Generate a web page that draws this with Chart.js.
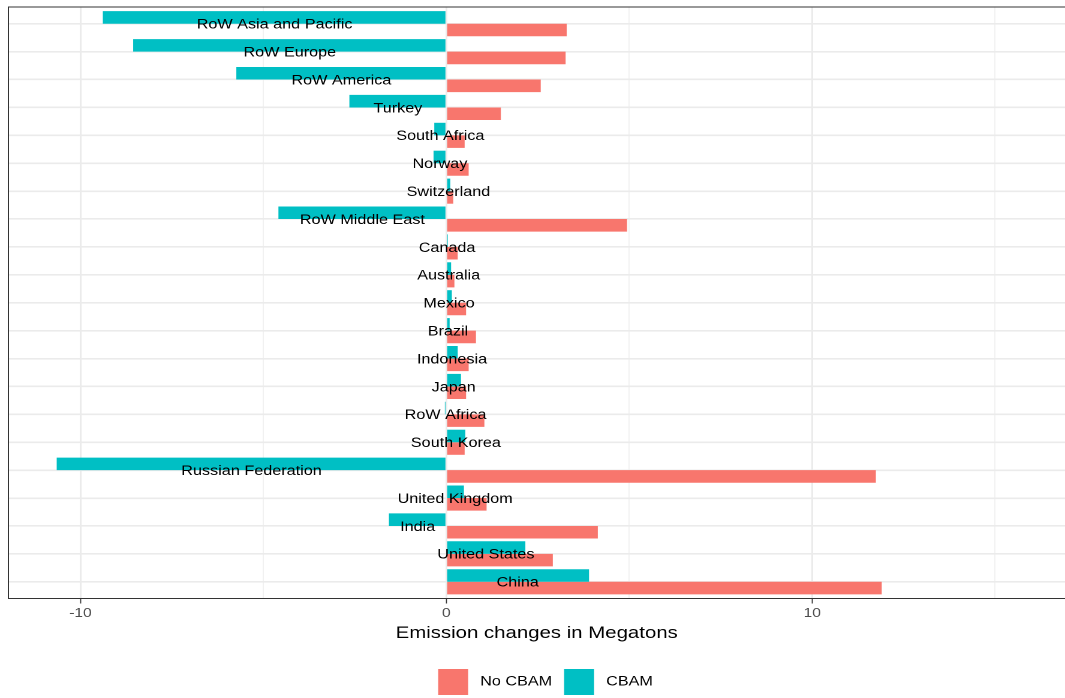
<!DOCTYPE html>
<html><head><meta charset="utf-8">
<script src="https://cdn.jsdelivr.net/npm/chart.js@4/dist/chart.umd.min.js"></script>
<style>html,body{margin:0;padding:0;background:#fff;overflow:hidden}
#c{display:block}</style>
</head><body>
<canvas id="c" width="888" height="698" style="width:1065px;height:698px"></canvas>
<script>
const categories = ['RoW Asia and Pacific','RoW Europe','RoW America','Turkey','South Africa','Norway','Switzerland','RoW Middle East','Canada','Australia','Mexico','Brazil','Indonesia','Japan','RoW Africa','South Korea','Russian Federation','United Kingdom','India','United States','China'];
const noCbam = [3.29,3.26,2.58,1.49,0.50,0.61,0.19,4.94,0.31,0.22,0.54,0.81,0.61,0.54,1.04,0.50,11.74,1.10,4.14,2.91,11.90];
const cbam = [-9.39,-8.56,-5.74,-2.65,-0.33,-0.35,0.11,-4.59,0.04,0.13,0.15,0.09,0.31,0.40,-0.04,0.52,-10.65,0.48,-1.57,2.16,3.90];
const xGridValues = [-10,-5,0,5,10,15];
const xTickLabels = ['-10','','0','','10',''];
const axisTitle = 'Emission changes in Megatons';
const seriesNames = ['No CBAM','CBAM'];
const seriesColors = ['#F8766D','#00BFC4'];

const FONT = "'Liberation Sans', Arial, Helvetica, sans-serif";
const SX = 1065/888;

const labelsPlugin = {
  id: 'countryLabels',
  afterDatasetsDraw(chart) {
    const {ctx, scales:{x, y}} = chart;
    const size = 13.5;
    ctx.save();
    ctx.font = size + 'px ' + FONT;
    ctx.fillStyle = '#000';
    ctx.textAlign = 'center';
    ctx.textBaseline = 'alphabetic';
    categories.forEach((name, i) => {
      ctx.fillText(name, x.getPixelForValue(cbam[i] / 2), y.getPixelForValue(i) + size * 0.716 / 2);
    });
    ctx.restore();
  }
};

const borderPlugin = {
  id: 'panelBorder',
  afterDraw(chart) {
    const {ctx, chartArea:a} = chart;
    ctx.save();
    ctx.strokeStyle = '#333333';
    ctx.lineWidth = 1;
    ctx.beginPath();
    ctx.moveTo(a.right + 2, a.top);
    ctx.lineTo(a.left, a.top);
    ctx.lineTo(a.left, a.bottom);
    ctx.lineTo(a.right + 2, a.bottom);
    ctx.stroke();
    ctx.restore();
  }
};

const legendPlugin = {
  id: 'bottomLegend',
  afterDraw(chart) {
    const {ctx} = chart;
    ctx.save();
    ctx.font = '13.5px ' + FONT;
    const box = 25, gap = 10, boxH = 26, top = 669;
    const w0 = ctx.measureText(seriesNames[0]).width;
    const w1 = ctx.measureText(seriesNames[1]).width;
    const total = box + gap + w0 + gap + box + gap + w1;
    let x = 545.5 / SX - total / 2;
    ctx.textBaseline = 'middle';
    ctx.textAlign = 'left';
    [0, 1].forEach(k => {
      ctx.fillStyle = seriesColors[k];
      ctx.fillRect(x, top, box, boxH);
      x += box + gap;
      ctx.fillStyle = '#000';
      ctx.fillText(seriesNames[k], x, top + boxH / 2);
      x += (k === 0 ? w0 : w1) + gap;
    });
    ctx.restore();
  }
};

const isMajor = c => c.tick && Math.abs(c.tick.value % 10) < 1e-9;

new Chart(document.getElementById('c'), {
  type: 'bar',
  data: {
    datasets: [
      {label: seriesNames[1], data: cbam.map((v, i) => ({x: v, y: i})), backgroundColor: seriesColors[1]},
      {label: seriesNames[0], data: noCbam.map((v, i) => ({x: v, y: i})), backgroundColor: seriesColors[0]}
    ]
  },
  options: {
    indexAxis: 'y',
    responsive: false,
    animation: false,
    devicePixelRatio: 2,
    layout: {padding: {left: 7, right: 0, top: 7, bottom: 46.5}},
    datasets: {bar: {barPercentage: 1, categoryPercentage: 0.9, borderWidth: 0}},
    plugins: {legend: {display: false}, tooltip: {enabled: false}},
    scales: {
      x: {
        type: 'linear', min: -11.97, max: 16.91, offset: false,
        afterBuildTicks: s => { s.ticks = xGridValues.map(v => ({value: v})); },
        grid: {
          offset: false,
          color: c => isMajor(c) ? '#EBEBEB' : '#F0F0F0',
          lineWidth: c => isMajor(c) ? 1.5 : 0.9,
          drawTicks: true, tickLength: 5,
          tickColor: c => isMajor(c) ? '#333333' : 'rgba(0,0,0,0)',
          tickWidth: 0.9
        },
        border: {display: false},
        ticks: {
          callback: (v, i) => xTickLabels[i],
          color: '#4D4D4D', font: {family: FONT, size: 13}, padding: 2,
          maxRotation: 0, autoSkip: false
        },
        title: {display: true, text: axisTitle, color: '#000', font: {family: FONT, size: 17}, padding: {top: 0, bottom: 8}}
      },
      y: {
        type: 'linear', min: -0.6, max: 20.6, reverse: true, offset: false,
        afterBuildTicks: s => { s.ticks = categories.map((_, i) => ({value: i})); },
        grid: {offset: false, color: '#EBEBEB', lineWidth: 1.6, drawTicks: false},
        border: {display: false},
        ticks: {display: false}
      }
    }
  },
  plugins: [labelsPlugin, borderPlugin, legendPlugin]
});
</script>
</body></html>
